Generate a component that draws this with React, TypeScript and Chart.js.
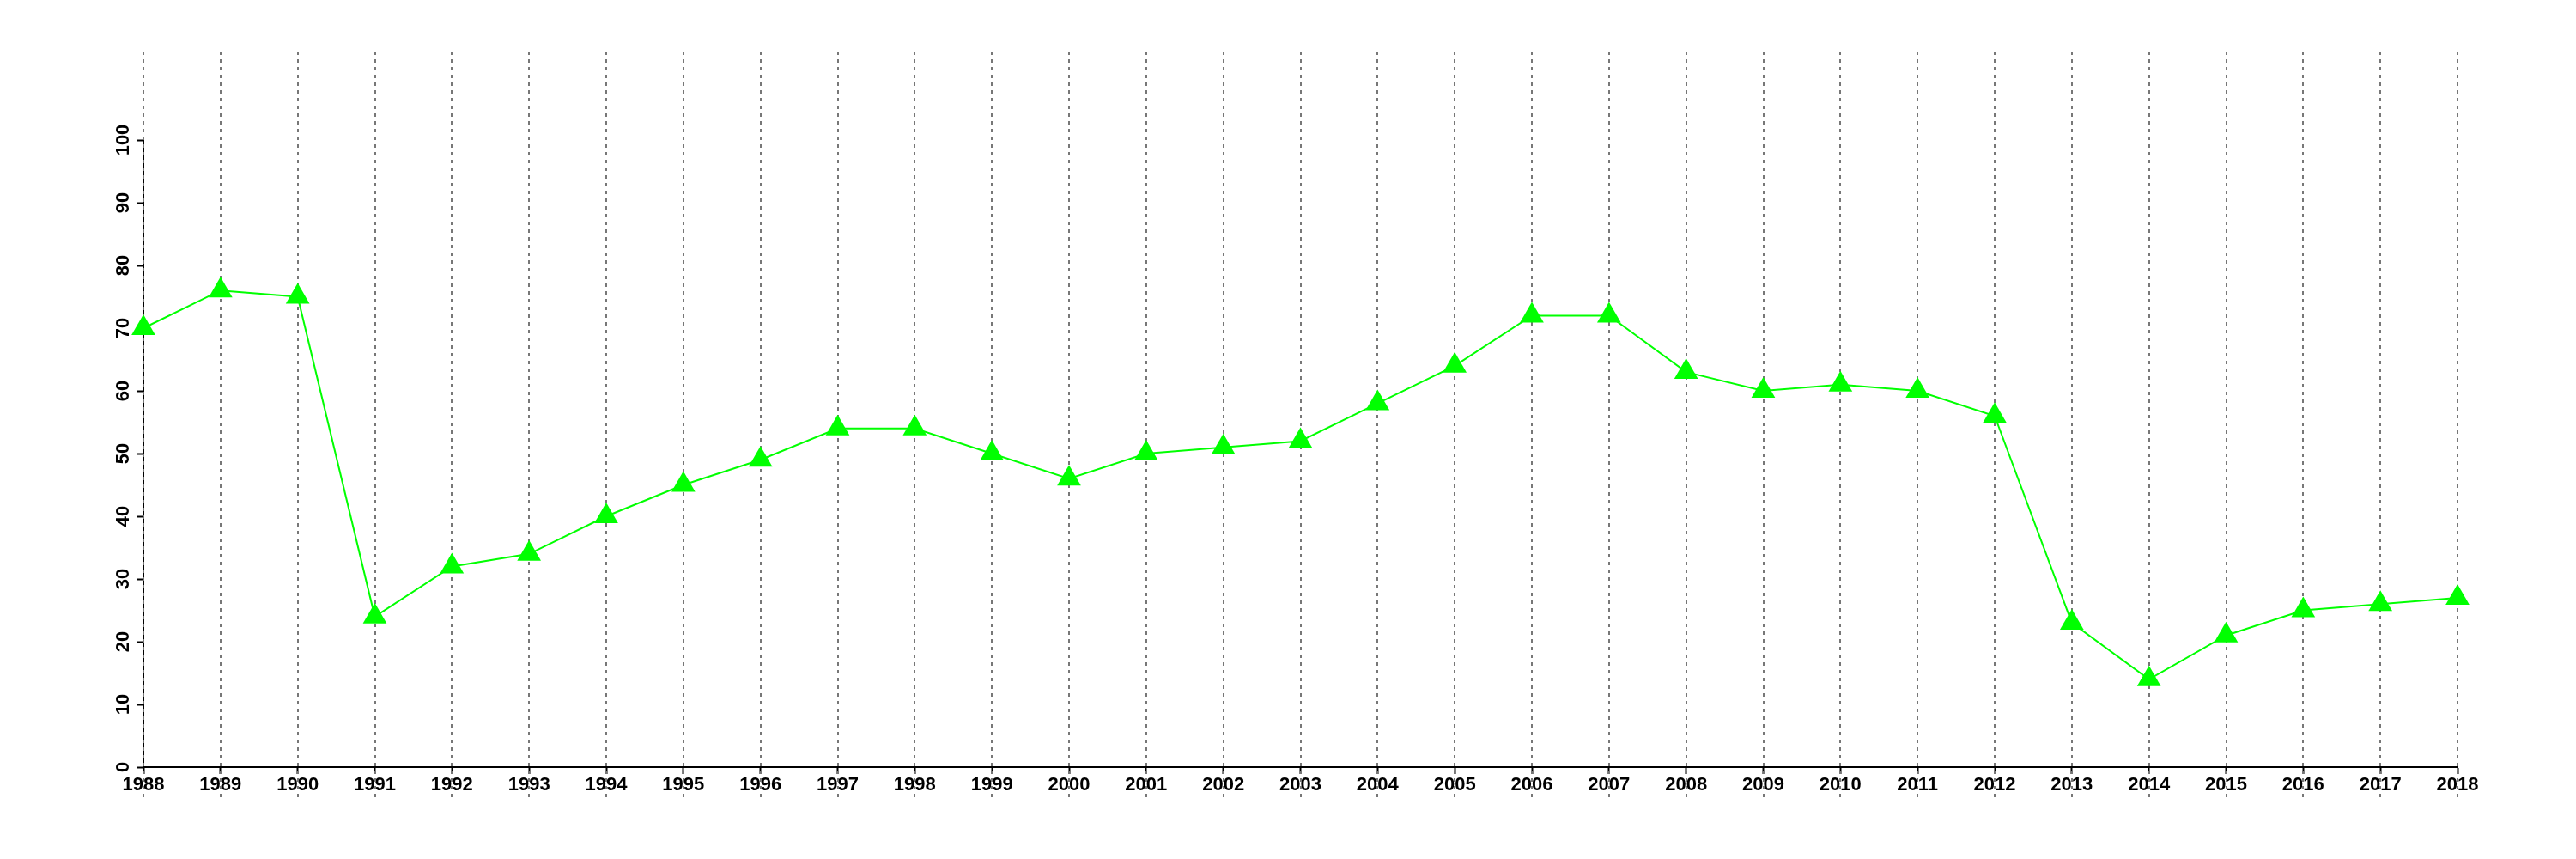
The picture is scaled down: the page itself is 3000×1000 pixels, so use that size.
import React, { useEffect, useRef } from "react";
import { Chart, registerables } from "chart.js";

Chart.register(...registerables);

const years: string[] = [
  "1988", "1989", "1990", "1991", "1992", "1993", "1994", "1995", "1996", "1997",
  "1998", "1999", "2000", "2001", "2002", "2003", "2004", "2005", "2006", "2007",
  "2008", "2009", "2010", "2011", "2012", "2013", "2014", "2015", "2016", "2017", "2018",
];
const values: number[] = [
  70, 76, 75, 24, 32, 34, 40, 45, 49, 54,
  54, 50, 46, 50, 51, 52, 58, 64, 72, 72,
  63, 60, 61, 60, 56, 23, 14, 21, 25, 26, 27,
];
const yMin = 0;
const yMax = 100;
const yStep = 10;

const FONT = "'Liberation Sans', Arial, Helvetica, sans-serif";

const gridPlugin = {
  id: "extendedGrid",
  beforeDatasetsDraw(chart: any) {
    const { ctx } = chart;
    const xs = chart.scales.x;
    ctx.save();
    ctx.strokeStyle = "#777777";
    ctx.lineWidth = 2;
    ctx.setLineDash([4, 5]);
    for (let i = 0; i < years.length; i++) {
      const px = Math.round(xs.getPixelForTick(i));
      ctx.beginPath();
      ctx.moveTo(px, 60);
      ctx.lineTo(px, 928);
      ctx.stroke();
    }
    ctx.restore();
  },
};

export default function App() {
  const ref = useRef<HTMLCanvasElement | null>(null);
  useEffect(() => {
    if (!ref.current) return;
    const chart = new Chart(ref.current, {
      type: "line",
      data: {
        labels: years,
        datasets: [
          {
            data: values,
            borderColor: "#00ff00",
            backgroundColor: "#00ff00",
            borderWidth: 2,
            pointStyle: "triangle",
            pointRadius: 16,
            pointBorderWidth: 0,
            pointBackgroundColor: "#00ff00",
            pointBorderColor: "#00ff00",
            tension: 0,
          },
        ],
      },
      options: {
        animation: false,
        responsive: false,
        maintainAspectRatio: false,
        devicePixelRatio: 1,
        layout: { padding: { left: 0, top: 163, right: 138, bottom: 0 } },
        plugins: { legend: { display: false }, tooltip: { enabled: false }, title: { display: false } },
        scales: {
          x: {
            type: "category",
            offset: false,
            grid: {
              drawOnChartArea: false,
              drawTicks: true,
              tickLength: 8,
              tickColor: "#000000",
              tickWidth: 2,
            },
            border: { display: true, color: "#000000", width: 2 },
            ticks: {
              color: "#000000",
              font: { family: FONT, size: 22, weight: "bold" },
              padding: 0,
              maxRotation: 0,
              minRotation: 0,
              autoSkip: false,
            },
            afterFit(scale: any) {
              scale.height = 107;
            },
          },
          y: {
            min: yMin,
            max: yMax,
            grid: {
              drawOnChartArea: false,
              drawTicks: true,
              tickLength: 8,
              tickColor: "#000000",
              tickWidth: 2,
            },
            border: { display: true, color: "#000000", width: 2 },
            ticks: {
              stepSize: yStep,
              color: "#000000",
              font: { family: FONT, size: 22, weight: "bold" },
              padding: -3,
              minRotation: 90,
              maxRotation: 90,
              crossAlign: "center",
            },
            afterFit(scale: any) {
              scale.width = 167;
            },
          },
        },
      },
      plugins: [gridPlugin],
    } as any);
    return () => chart.destroy();
  }, []);
  return (
    <div style={{ position: "fixed", left: 0, top: 0, width: 3000, height: 1000, background: "#ffffff" }}>
      <canvas ref={ref} width={3000} height={1000} style={{ width: 3000, height: 1000, display: "block" }} />
    </div>
  );
}
